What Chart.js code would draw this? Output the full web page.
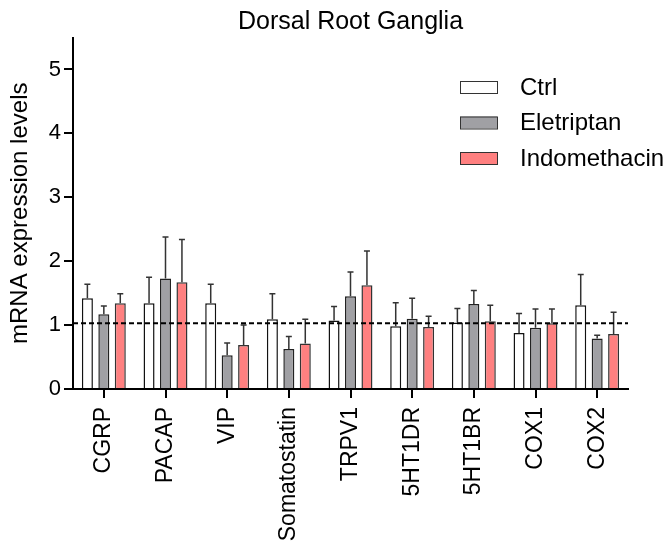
<!DOCTYPE html>
<html>
<head>
<meta charset="utf-8">
<script src="https://cdn.jsdelivr.net/npm/chart.js@4/dist/chart.umd.min.js"></script>
<style>
  body { margin: 0; background: #fff; }
</style>
</head>
<body>
<canvas id="barChart" width="667" height="542"></canvas>
<script>
// Dorsal root ganglia mRNA levels
const genes = ['CGRP', 'PACAP', 'VIP', 'Somatostatin', 'TRPV1', '5HT1DR', '5HT1BR', 'COX1', 'COX2'];
const ctrl = [1.42, 1.34, 1.34, 1.09, 1.07, 0.98, 1.04, 0.875, 1.31];
const ctrlErr = [0.22, 0.41, 0.30, 0.40, 0.22, 0.37, 0.22, 0.305, 0.48];
const eletriptan = [1.17, 1.73, 0.53, 0.625, 1.45, 1.10, 1.33, 0.96, 0.79];
const eletriptanErr = [0.13, 0.65, 0.19, 0.195, 0.38, 0.32, 0.21, 0.29, 0.05];
const indomethacin = [1.34, 1.67, 0.69, 0.71, 1.625, 0.97, 1.06, 1.03, 0.86];
const indomethacinErr = [0.15, 0.67, 0.31, 0.38, 0.535, 0.17, 0.25, 0.22, 0.34];
const yTicks = [0, 1, 2, 3, 4, 5];
const baseline = 1.03;
const title = 'Dorsal Root Ganglia';

const font = "'Liberation Sans', Arial, sans-serif";

// upward error bars
const errorBars = {
    id: 'errorBars',
    afterDatasetsDraw(chart) {
        const c = chart.ctx;
        const y = chart.scales.y;
        c.save();
        c.strokeStyle = '#333';
        c.lineWidth = 1.5;
        chart.data.datasets.forEach((ds, i) => {
            const meta = chart.getDatasetMeta(i);
            meta.data.forEach((bar, j) => {
                const top = y.getPixelForValue(ds.data[j] + ds.errors[j]);
                c.beginPath();
                c.moveTo(bar.x, bar.y);
                c.lineTo(bar.x, top);
                c.moveTo(bar.x - 3, top);
                c.lineTo(bar.x + 3, top);
                c.stroke();
            });
        });
        c.restore();
    }
};

// dashed reference line
const refLine = {
    id: 'refLine',
    afterDatasetsDraw(chart) {
        const c = chart.ctx;
        const area = chart.chartArea;
        const py = chart.scales.y.getPixelForValue(baseline);
        c.save();
        c.strokeStyle = '#000';
        c.lineWidth = 2;
        c.setLineDash([5, 3]);
        c.beginPath();
        c.moveTo(area.left, py);
        c.lineTo(area.right, py);
        c.stroke();
        c.restore();
    }
};

// title centred over the plot, legend in the top right
const decorations = {
    id: 'decorations',
    afterDraw(chart) {
        const c = chart.ctx;
        const area = chart.chartArea;
        c.save();
        c.fillStyle = '#000';
        c.font = '25px ' + font;
        c.textAlign = 'center';
        c.textBaseline = 'middle';
        c.fillText(title, (area.left + area.right) / 2, 22);

        c.font = '24px ' + font;
        c.textAlign = 'left';
        chart.data.datasets.forEach((ds, i) => {
            const cy = 87 + i * 35.5;
            c.fillStyle = ds.backgroundColor;
            c.fillRect(460, cy - 6, 37, 12);
            c.strokeStyle = '#333';
            c.lineWidth = 1;
            c.strokeRect(460.5, cy - 5.5, 37, 12);
            c.fillStyle = '#000';
            c.fillText(ds.label, 520, cy + 1);
        });
        c.restore();
    }
};

const ctx = document.getElementById('barChart').getContext('2d');
const myChart = new Chart(ctx, {
    type: 'bar',
    data: {
        labels: genes,
        datasets: [{
            label: 'Ctrl',
            data: ctrl,
            errors: ctrlErr,
            backgroundColor: '#ffffff',
            borderColor: '#111',
            borderWidth: 1.5
        }, {
            label: 'Eletriptan',
            data: eletriptan,
            errors: eletriptanErr,
            backgroundColor: '#a0a0a4',
            borderColor: '#222',
            borderWidth: 1.5
        }, {
            label: 'Indomethacin',
            data: indomethacin,
            errors: indomethacinErr,
            backgroundColor: '#ff8080',
            borderColor: '#333',
            borderWidth: 1.5
        }]
    },
    options: {
        responsive: false,
        animation: false,
        categoryPercentage: 0.8,
        barPercentage: 0.67,
        layout: { padding: { left: 0, right: 39, top: 37.5, bottom: 0 } },
        plugins: {
            legend: { display: false },
            tooltip: { enabled: false },
            title: { display: false }
        },
        scales: {
            x: {
                offset: true,
                afterFit: s => { s.height = 153; },
                grid: { drawOnChartArea: false, drawTicks: true, offset: false, tickLength: 9, color: '#000', lineWidth: 2 },
                border: { display: true, color: '#000', width: 2 },
                ticks: {
                    color: '#000',
                    font: { family: font, size: 23 },
                    minRotation: 90,
                    maxRotation: 90,
                    padding: 9,
                    autoSkip: false
                }
            },
            y: {
                min: 0,
                max: 5.5,
                afterFit: s => { s.width = 73; },
                afterBuildTicks: s => { s.ticks = yTicks.map(v => ({ value: v })); },
                grid: { drawOnChartArea: false, drawTicks: true, tickLength: 9, color: '#000', lineWidth: 2 },
                border: { display: true, color: '#000', width: 2 },
                title: {
                    display: true,
                    text: 'mRNA expression levels',
                    color: '#000',
                    font: { family: font, size: 24 },
                    padding: { top: 6, bottom: 0 }
                },
                ticks: {
                    color: '#000',
                    font: { family: font, size: 22 },
                    padding: 3
                }
            }
        }
    },
    plugins: [errorBars, refLine, decorations]
});
</script>
</body>
</html>
